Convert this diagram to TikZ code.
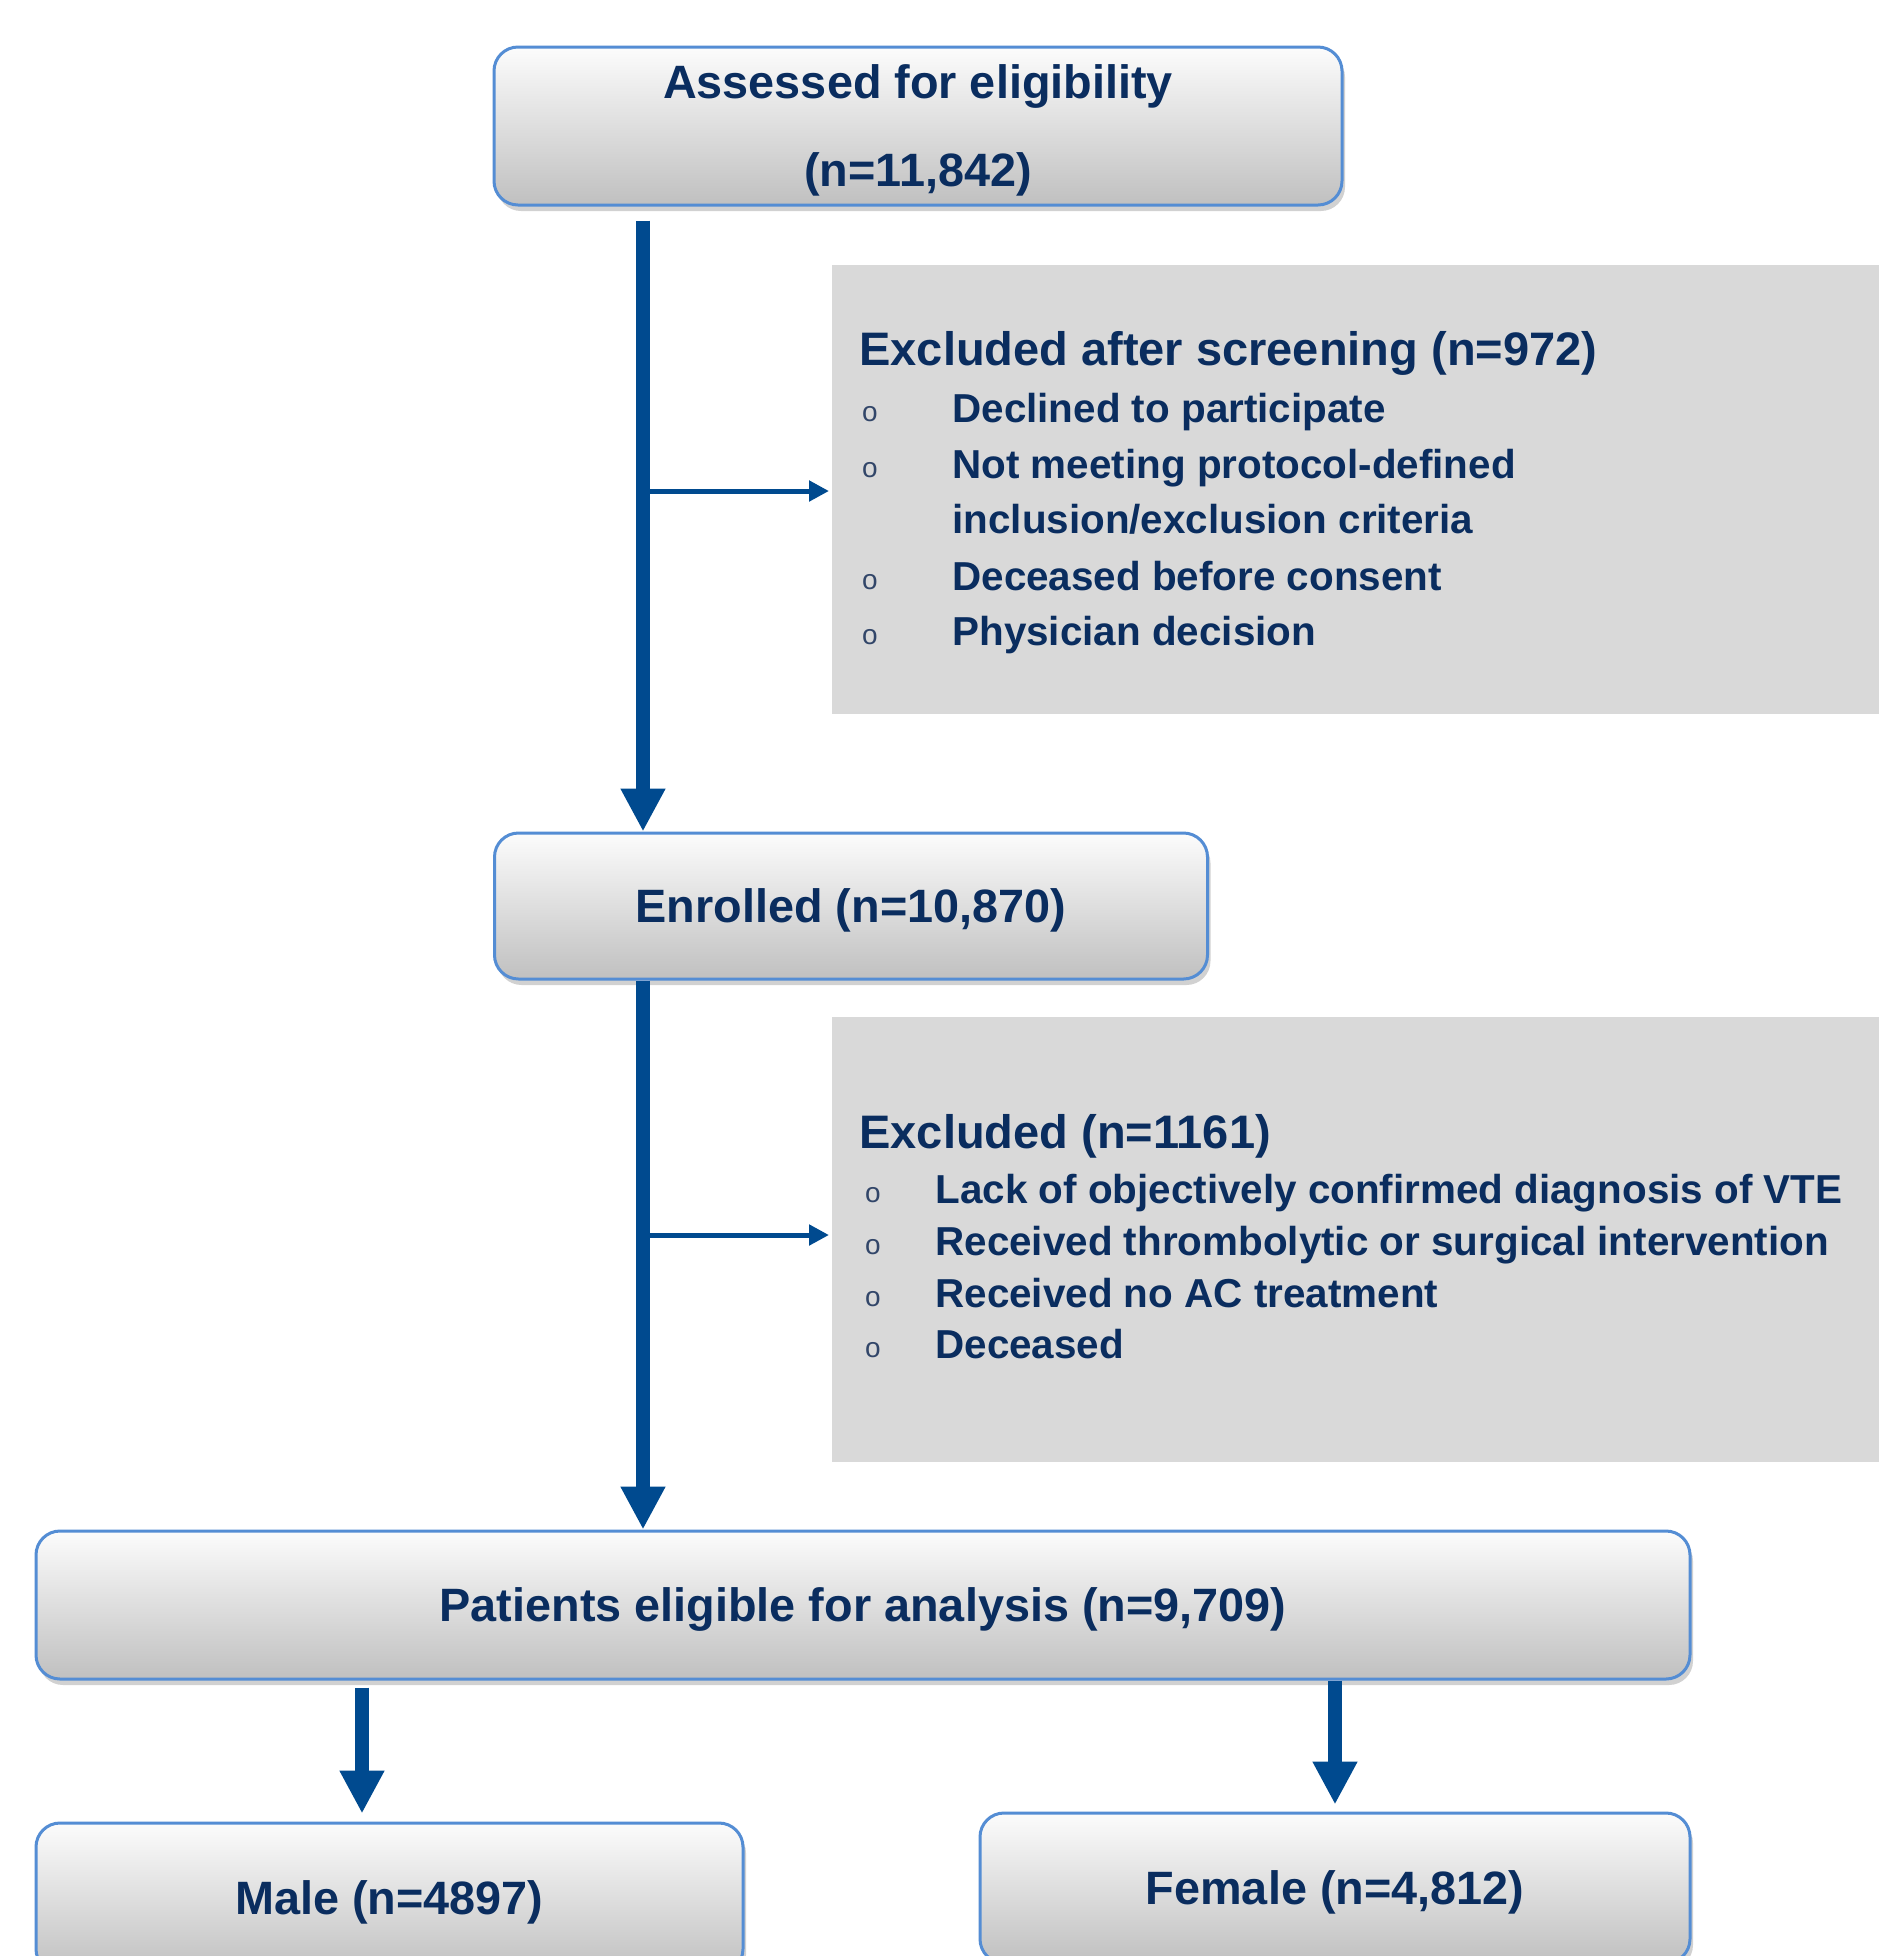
\documentclass[tikz,border=0pt]{standalone}
\usepackage{fontspec}
\setmainfont{Liberation Sans}
\usetikzlibrary{arrows.meta,shadows}
\definecolor{txtcol}{RGB}{10,45,95}
\definecolor{arrcol}{RGB}{0,74,143}
\definecolor{bordcol}{RGB}{84,141,212}
\definecolor{exgray}{RGB}{217,217,217}
\definecolor{gtop}{RGB}{252,252,252}
\definecolor{gbot}{RGB}{192,192,192}
\definecolor{bulcol}{RGB}{50,70,105}
\tikzset{
  pbox/.style={draw=bordcol, line width=1.5pt, rounded corners=12pt,
    top color=gtop, bottom color=gbot, inner sep=0pt, text depth=0pt,
    drop shadow={shadow xshift=1.5pt, shadow yshift=-3pt, opacity=0.18, fill=black},
    text=txtcol, font=\bfseries\fontsize{23.4pt}{44pt}\selectfont, align=center},
  exbox/.style={fill=exgray, draw=none, inner sep=0pt, anchor=north west},
  exhead/.style={anchor=base west, inner sep=0pt, text=txtcol,
    font=\bfseries\fontsize{23.5pt}{28pt}\selectfont},
  exitem/.style={anchor=base west, inner sep=0pt, text=txtcol,
    font=\bfseries\fontsize{20.2pt}{24pt}\selectfont},
  bul/.style={anchor=base, inner sep=0pt, text=bulcol,
    font=\fontsize{14pt}{16pt}\selectfont},
  bigarrow/.style={draw=arrcol, line width=7pt,
    -{Triangle[length=21.5pt, width=21pt]}},
  smallarrow/.style={draw=arrcol, line width=2.5pt,
    -{Triangle[length=10pt, width=10pt]}}
}
\begin{document}
\begin{tikzpicture}[x=0.5pt, y=-0.5pt]
\useasboundingbox (0,0) rectangle (1879,1956);
\fill[white] (0,0) rectangle (1879,1956);

% main boxes
\node[pbox, minimum width=424pt, minimum height=79pt] (assess) at (918,126)
  {Assessed for eligibility\\(n=11,842)};
\node[pbox, minimum width=356.5pt, minimum height=73pt] (enrol) at (851,906)
  {Enrolled (n=10,870)};
\node[pbox, minimum width=827pt, minimum height=74pt] (elig) at (863,1605)
  {Patients eligible for analysis (n=9,709)};
\node[pbox, minimum width=353.5pt, minimum height=75pt] (male) at (389.5,1898)
  {Male (n=4897)};
\node[pbox, minimum width=355pt, minimum height=75pt] (female) at (1335,1888)
  {Female (n=4,812)};

% exclusion boxes
\node[exbox, minimum width=523.5pt, minimum height=224.5pt] (ex1) at (832,265) {};
\node[exhead] (ex1h) at (859,365) {Excluded after screening (n=972)};
\node[bul] (b11) at (870,421) {o};
\node[exitem] (ex1a) at (952,422) {Declined to participate};
\node[bul] (b12) at (870,477) {o};
\node[exitem] (ex1b) at (952,478) {Not meeting protocol-defined};
\node[exitem] (ex1c) at (952,533) {inclusion/exclusion criteria};
\node[bul] (b13) at (870,589) {o};
\node[exitem] (ex1d) at (952,590) {Deceased before consent};
\node[bul] (b14) at (870,644) {o};
\node[exitem] (ex1e) at (952,645) {Physician decision};

\node[exbox, minimum width=523.5pt, minimum height=222.5pt] (ex2) at (832,1017) {};
\node[exhead] (ex2h) at (859,1148) {Excluded (n=1161)};
\node[bul] (b21) at (873,1202) {o};
\node[exitem] (ex2a) at (935,1203) {Lack of objectively confirmed diagnosis of VTE};
\node[bul] (b22) at (873,1254) {o};
\node[exitem] (ex2b) at (935,1255) {Received thrombolytic or surgical intervention};
\node[bul] (b23) at (873,1306) {o};
\node[exitem] (ex2c) at (935,1307) {Received no AC treatment};
\node[bul] (b24) at (873,1357) {o};
\node[exitem] (ex2d) at (935,1358) {Deceased};

% connector coordinates
\coordinate (vx) at (643,0);
\coordinate (j1) at (643,491);
\coordinate (j2) at (643,1235);
\coordinate (lx) at (362,0);
\coordinate (rx) at (1335,0);

% connectors
\draw[smallarrow, shorten >=1.5pt] (j1) -- (ex1.west |- j1);
\draw[smallarrow, shorten >=1.5pt] (j2) -- (ex2.west |- j2);
\draw[bigarrow, shorten <=7pt] (assess.south -| vx) -- (enrol.north -| vx);
\draw[bigarrow] (enrol.south -| vx) -- (elig.north -| vx);
\draw[bigarrow, shorten <=3.5pt, shorten >=4pt] (elig.south -| lx) -- (male.north -| lx);
\draw[bigarrow, shorten >=3.5pt] (elig.south -| rx) -- (female.north -| rx);
\end{tikzpicture}
\end{document}
